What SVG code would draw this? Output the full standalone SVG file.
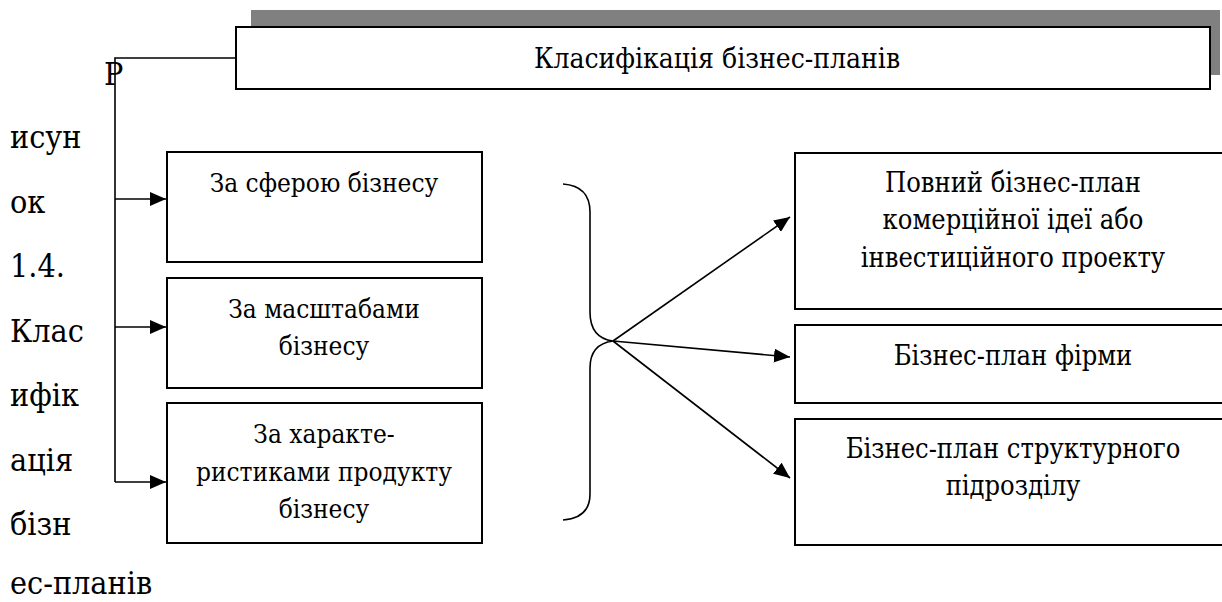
<svg xmlns="http://www.w3.org/2000/svg" width="1222" height="602" viewBox="0 0 1222 602">
<style>
text{font-family:'DejaVu Serif Condensed','DejaVu Serif',serif;fill:#000}
.box{fill:#fff;stroke:#000;stroke-width:2}
.t{font-size:27px;text-anchor:middle}
.l{font-size:26px}
.side{font-size:32px}
.ln{fill:none;stroke:#000;stroke-width:1.6}
</style>
<defs>
<marker id="ah" markerWidth="16" markerHeight="14" refX="16" refY="7" orient="auto" markerUnits="userSpaceOnUse">
<path d="M0,0 L16,7 L0,14 Z" fill="#000"/>
</marker>
</defs>
<rect width="1222" height="602" fill="#fff"/>
<g id="caption">
<text class="side" x="104" y="85">Р</text>
<text class="side" x="10" y="148">исун</text>
<text class="side" x="10" y="213">ок</text>
<text class="side" x="10" y="277">1.4.</text>
<text class="side" x="10" y="342">Клас</text>
<text class="side" x="10" y="406">ифік</text>
<text class="side" x="10" y="471">ація</text>
<text class="side" x="10" y="535">бізн</text>
<text class="side" x="10" y="594">ес-планів</text>
</g>
<g id="connectors">
<polyline class="ln" points="236,58 115,58 115,482"/>
<line class="ln" x1="115" y1="199" x2="166" y2="199" marker-end="url(#ah)"/>
<line class="ln" x1="115" y1="327" x2="166" y2="327" marker-end="url(#ah)"/>
<line class="ln" x1="115" y1="482" x2="166" y2="482" marker-end="url(#ah)"/>
<path class="ln" d="M563,184 Q590,186 590,212 L590,312 Q590,338 613,341 Q590,344 590,368 L590,494 Q590,518 563,520"/>
<line class="ln" x1="613" y1="341" x2="790" y2="217" marker-end="url(#ah)"/>
<line class="ln" x1="613" y1="341" x2="790" y2="357" marker-end="url(#ah)"/>
<line class="ln" x1="613" y1="341" x2="790" y2="478" marker-end="url(#ah)"/>
</g>
<g id="title">
<rect x="251" y="10" width="969" height="65" fill="#808080"/>
<rect class="box" x="236" y="27" width="974" height="62"/>
<text class="t" x="717" y="68" style="font-size:28px">Класифікація бізнес-планів</text>
</g>
<g id="sphere">
<rect class="box" x="167" y="152" width="315" height="110"/>
<text class="t l" x="324" y="192">За сферою бізнесу</text>
</g>
<g id="scale">
<rect class="box" x="167" y="278" width="315" height="110"/>
<text class="t l" x="324" y="318">За масштабами</text>
<text class="t l" x="324" y="355">бізнесу</text>
</g>
<g id="product">
<rect class="box" x="167" y="403" width="315" height="140"/>
<text class="t l" x="324" y="443">За характе-</text>
<text class="t l" x="324" y="481">ристиками продукту</text>
<text class="t l" x="324" y="518">бізнесу</text>
</g>
<g id="full">
<rect class="box" x="795" y="153" width="435" height="156"/>
<text class="t" x="1013" y="192">Повний бізнес-план</text>
<text class="t" x="1013" y="229">комерційної ідеї або</text>
<text class="t" x="1013" y="267">інвестиційного проекту</text>
</g>
<g id="firm">
<rect class="box" x="795" y="325" width="435" height="78"/>
<text class="t" x="1013" y="365">Бізнес-план фірми</text>
</g>
<g id="unit">
<rect class="box" x="795" y="419" width="435" height="126"/>
<text class="t" x="1013" y="458">Бізнес-план структурного</text>
<text class="t" x="1013" y="495">підрозділу</text>
</g>
</svg>
